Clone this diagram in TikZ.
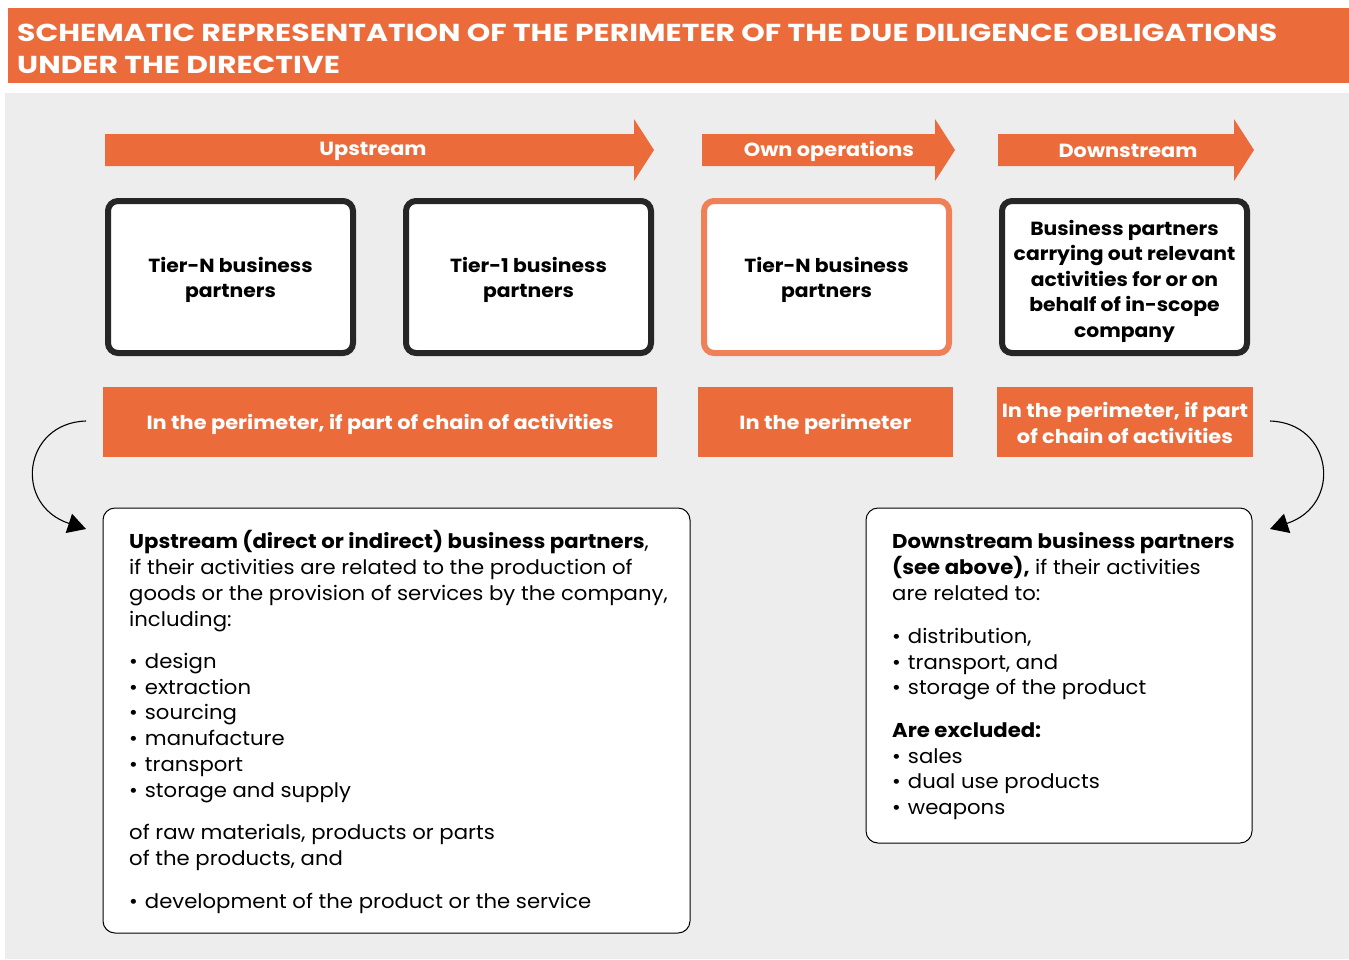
\documentclass[tikz,border=0pt]{standalone}
\usepackage{fontspec}
\setmainfont{Poppins}[FakeStretch=1.06]
\newfontfamily\ttlfont{Poppins}[FakeStretch=1.22]
\newfontfamily\boxfont{Poppins}[FakeStretch=1.07]
\newfontfamily\lblfont{Poppins}[FakeStretch=1.1]
\usetikzlibrary{arrows.meta}
\definecolor{orng}{HTML}{EC6B3B}
\definecolor{lorng}{HTML}{EF8159}
\definecolor{panel}{HTML}{EDEDED}
\definecolor{dark}{HTML}{262626}
\newcommand{\lowerby}[2]{\raisebox{-#1}[\height][\depth]{#2}}
\begin{document}
\begin{tikzpicture}[x=1pt,y=-1pt,
  tbox/.style={draw=dark,line width=6pt,rounded corners=10pt,fill=white,minimum width=245pt,minimum height=152pt,align=center,font=\boxfont\fontsize{19}{25.5}\selectfont\bfseries,inner sep=0pt},
  obox/.style={tbox,draw=lorng},
  lbl/.style={fill=orng,text=white,minimum height=70pt,align=center,inner sep=0pt,font=\lblfont\fontsize{19}{25.5}\selectfont\bfseries},
  arrtxt/.style={text=white,font=\lblfont\fontsize{19}{22}\selectfont\bfseries,inner sep=0pt},
  bigbox/.style={draw=black,line width=1pt,rounded corners=12pt,fill=white,inner sep=0pt},
  ln/.style={anchor=base west,inner sep=0pt,font=\fontsize{20}{25.5}\selectfont},
  curv/.style={line width=1.1pt,-{Triangle[length=18pt,width=20pt]}},
  ttl/.style={anchor=base west,inner sep=0pt,text=white,font=\ttlfont\fontsize{24.5}{30}\selectfont\bfseries}
]
\useasboundingbox (0,0) rectangle (1349,959);
\fill[white] (0,0) rectangle (1349,959);
% title
\fill[orng] (8,8) rectangle (1349,83);
\node[ttl] (t1) at (17,41) {SCHEMATIC REPRESENTATION OF THE PERIMETER OF THE DUE DILIGENCE OBLIGATIONS};
\node[ttl] (t2) at (17,73) {UNDER THE DIRECTIVE};
% panel
\fill[panel] (5,93) rectangle (1349,959);
% arrows
\fill[orng] (105,134) -- (634,134) -- (634,119) -- (654,150) -- (634,181) -- (634,166) -- (105,166) -- cycle;
\fill[orng] (702,134) -- (935,134) -- (935,119) -- (955,150) -- (935,181) -- (935,166) -- (702,166) -- cycle;
\fill[orng] (998,134) -- (1234,134) -- (1234,119) -- (1254,150) -- (1234,181) -- (1234,166) -- (998,166) -- cycle;
\node[arrtxt] (aup) at (373,151) {Upstream};
\node[arrtxt] (aown) at (829,151) {Own operations};
\node[arrtxt] (adown) at (1128,151) {Downstream};
% top boxes
\node[tbox] (tierN) at (230.5,277) {\lowerby{3pt}{\parbox{200pt}{\centering Tier-N business\\partners}}};
\node[tbox] (tier1) at (528.5,277) {\lowerby{3pt}{\parbox{200pt}{\centering Tier-1 business\\partners}}};
\node[obox] (own) at (826.5,277) {\lowerby{3pt}{\parbox{200pt}{\centering Tier-N business\\partners}}};
\node[tbox] (down) at (1124.5,277) {\lowerby{4pt}{\parbox{235pt}{\centering Business partners\\carrying out relevant\\activities for or on\\behalf of in-scope\\company}}};
% labels
\node[lbl,minimum width=554pt] (l1) at (380,422) {\lowerby{2pt}{In the perimeter, if part of chain of activities}};
\node[lbl,minimum width=255pt] (l2) at (825.5,422) {\lowerby{2pt}{In the perimeter}};
\node[lbl,minimum width=256pt] (l3) at (1125,422) {\lowerby{1pt}{\parbox{250pt}{\centering In the perimeter, if part\\of chain of activities}}};
% lower boxes
\node[bigbox,minimum width=587pt,minimum height=425pt] (lb) at (396.5,720.5) {};
\node[bigbox,minimum width=386pt,minimum height=335pt] (rb) at (1059,675.5) {};
% curved arrows
\coordinate (cl1) at (86,421);
\coordinate (cl2) at (86,529);
\coordinate (cr1) at (1270,421);
\coordinate (cr2) at (1270,529);
\draw[curv] (cl1) .. controls (23,423) and (13,505) .. (cl2);
\draw[curv] (cr1) .. controls (1333,423) and (1343,505) .. (cr2);
% left box text
\foreach \y/\t in {548/{\textbf{Upstream (direct or indirect) business partners},},
  574/{if their activities are related to the production of},
  600/{goods or the provision of services by the company,},
  626/{including:},
  839/{of raw materials, products or parts},
  865/{of the products, and}}
  \node[ln] at (129,\y) {\t};
\foreach \y/\t in {668/design,694/extraction,719/sourcing,745/manufacture,771/transport,797/storage and supply,908/development of the product or the service}
  \node[ln] at (129,\y) {•\hspace{7pt}\t};
% right box text
\foreach \y/\t in {548/{\textbf{Downstream business partners}},
  574/{\textbf{(see above),} if their activities},
  600/{are related to:},
  737/{\textbf{Are excluded:}}}
  \node[ln] at (892,\y) {\t};
\foreach \y/\t in {643/{distribution,},669/{transport, and},694/storage of the product,763/sales,788/dual use products,814/weapons}
  \node[ln] at (892,\y) {•\hspace{7pt}\t};
\end{tikzpicture}
\end{document}
